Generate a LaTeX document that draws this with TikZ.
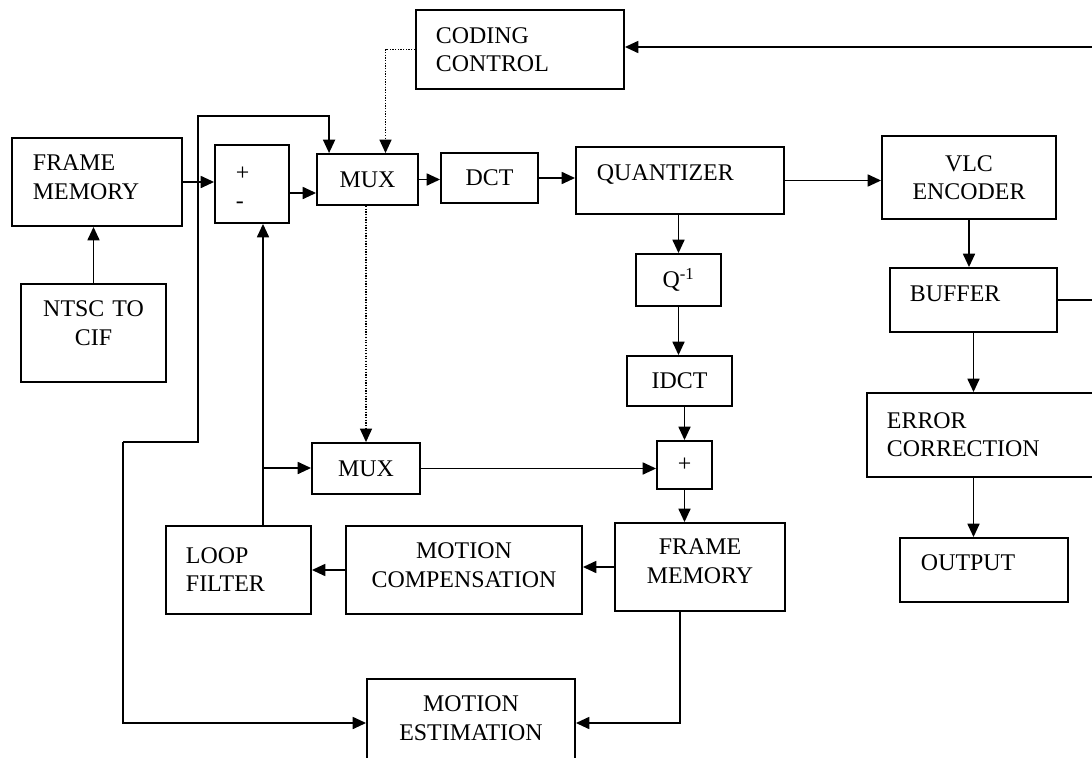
\documentclass[tikz,border=0pt]{standalone}
\usepackage{fontspec}
\setmainfont{Liberation Serif}
\usetikzlibrary{arrows.meta,calc}
\newcommand\blkfont{\fontsize{17pt}{20pt}\selectfont}

\begin{document}
\begin{tikzpicture}[x=0.025cm, y=-0.025cm, line width=1.3pt,
    >={Triangle[length=9.5pt,width=8.5pt]},
    blk/.style={draw, rectangle, inner sep=0pt, align=center, font=\blkfont},
    lblk/.style={blk, align=left, inner xsep=#1}]
  \useasboundingbox (0,0) rectangle (1092,757);

  % encoder path
  \node[lblk=0.525cm, text width=3.2cm, minimum height=2.2cm, text depth=0.95cm] (fm1) at (97,182) {FRAME\\MEMORY};
  \node[blk, text width=3.625cm, minimum height=2.45cm, text depth=1.2cm] (ntsc) at (93.5,333) {NTSC TO\\CIF};
  \node[lblk=0.525cm, text width=0.8cm, minimum height=1.95cm, text depth=0.5cm] (sub) at (252,184) {+\\-};
  \node[blk, minimum width=2.525cm, minimum height=1.275cm] (mux1) at (367.5,179.5) {MUX};
  \node[blk, minimum width=2.425cm, minimum height=1.25cm] (dct) at (489.5,178) {DCT};
  \node[lblk=0.525cm, text width=4.15cm, minimum height=1.675cm, text depth=0.4cm] (quant) at (680,180.5) {QUANTIZER};
  \node[blk, minimum width=4.35cm, minimum height=2.075cm] (vlc) at (969,177.5) {VLC\\ENCODER};
  \node[lblk=0.5cm, text width=4.2cm, minimum height=1.975cm] (cc) at (520,49.5) {CODING\\CONTROL};

  % reconstruction loop
  \node[blk, minimum width=2.125cm, minimum height=1.3cm] (qinv) at (678.5,280) {Q\textsuperscript{-1}};
  \node[blk, minimum width=2.625cm, minimum height=1.25cm] (idct) at (679.5,381) {IDCT};
  \node[blk, minimum width=1.375cm, minimum height=1.2cm] (add) at (684.5,465) {+};
  \node[blk, text width=4.25cm, minimum height=2.2cm, text depth=1.0cm] (fm2) at (700,567) {FRAME\\MEMORY};
  \node[blk, text width=5.9cm, minimum height=2.2cm, text depth=0.95cm] (mc) at (464,570) {MOTION\\COMPENSATION};
  \node[lblk=0.5cm, text width=2.625cm, minimum height=2.2cm] (lf) at (238.5,570) {LOOP\\FILTER};
  \node[blk, minimum width=2.7cm, minimum height=1.275cm] (mux2) at (366,468.5) {MUX};
  \node[blk, text width=5.2cm, minimum height=2.2cm, text depth=0.95cm] (me) at (471,723) {MOTION\\ESTIMATION};

  % output side
  \node[lblk=0.5cm, text width=3.175cm, minimum height=1.6cm, text depth=0.3cm] (buf) at (973.5,300) {BUFFER};
  \node[lblk=0.5cm, text width=4.825cm, minimum height=2.1cm] (err) at (983.5,435) {ERROR\\CORRECTION};
  \node[lblk=0.525cm, text width=3.15cm, minimum height=1.6cm, text depth=0.35cm] (out) at (984,570) {OUTPUT};

  \coordinate (tap) at (263,468);
  \coordinate (vin) at (123,442);
  \coordinate (vtop) at (198,116);
  \coordinate (fb) at (1100,47);

  \draw[->] (ntsc.north) -- (ntsc.north |- fm1.south);
  \draw[->] (fm1.east) -- (fm1.east -| sub.west);
  \draw[->] ($(sub.east)+(0,9)$) -- ($(sub.east -| mux1.west)+(0,9)$);
  \draw[->] (mux1.east) -- (mux1.east -| dct.west);
  \draw[->] (dct.east) -- (dct.east -| quant.west);
  \draw[->] (quant.east) -- (quant.east -| vlc.west);
  \draw[->] (qinv.north |- quant.south) -- (qinv.north);
  \draw[->] (qinv.south) -- (qinv.south |- idct.north);
  \draw[->] (add.north |- idct.south) -- (add.north);
  \draw[->] (add.south) -- (add.south |- fm2.north);
  \draw[->] (mux2.east) -- (mux2.east -| add.west);
  \draw[->] (fm2.west) -- (fm2.west -| mc.east);
  \draw[->] (mc.west) -- (mc.west -| lf.east);
  \draw[->] (lf.north -| tap) -- (tap |- sub.south);
  \draw[->] (tap) -- (tap -| mux2.west);

  % input and motion estimation
  \draw[->] (vin) -| (vtop) -| ($(mux1.north west)+(13,0)$);
  \draw[->] (vin) |- (me.west);
  \draw[->] ($(fm2.south)+(-20,0)$) |- (me.east);

  % control (dotted)
  \draw[densely dotted, line width=0.9pt, ->] (cc.west) -| ($(mux1.north)+(18,0)$);
  \draw[densely dotted, line width=0.9pt, ->] (mux2.north |- mux1.south) -- (mux2.north);

  \draw[->] (vlc.south) -- (vlc.south |- buf.north);
  \draw[->] (buf.south) -- (buf.south |- err.north);
  \draw[->] (buf.south |- err.south) -- (buf.south |- out.north);
  \draw[->] (buf.east) -| (fb) -- (fb -| cc.east);
\end{tikzpicture}
\end{document}
